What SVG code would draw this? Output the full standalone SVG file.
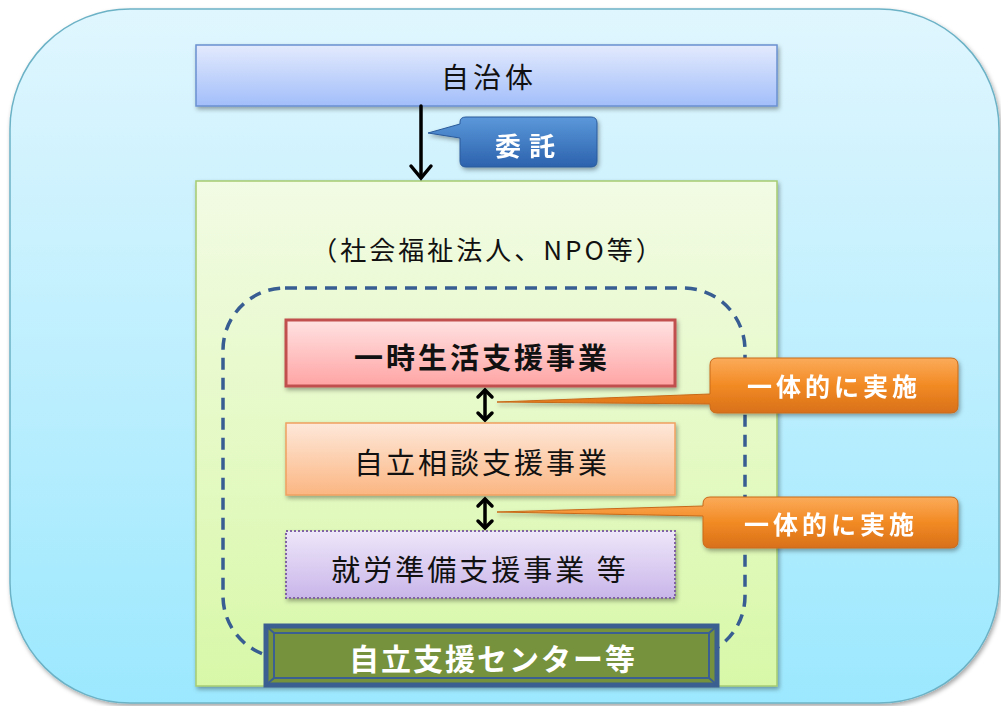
<svg xmlns="http://www.w3.org/2000/svg" width="1001" height="706" viewBox="0 0 1001 706">
<style>
.jp{font-family:"Noto Sans CJK JP","Noto Sans CJK SC",sans-serif;}
.dark{fill:#111;}
.wt{fill:#fff;font-weight:bold;}
.arr{stroke:#000;stroke-width:3.5;fill:none;stroke-linecap:round;stroke-linejoin:miter;}
.box{font-size:29px;letter-spacing:3px;}
</style>
<defs>
<linearGradient id="gOuter" x1="0" y1="0" x2="0" y2="1"><stop offset="0" stop-color="#e0f6fe"/><stop offset="1" stop-color="#9ce8fe"/></linearGradient>
<linearGradient id="gBlue" x1="0" y1="0" x2="0" y2="1"><stop offset="0" stop-color="#e3eafd"/><stop offset="1" stop-color="#a2befa"/></linearGradient>
<linearGradient id="gGreen" x1="0" y1="0" x2="0" y2="1"><stop offset="0" stop-color="#f2fbe4"/><stop offset="1" stop-color="#d8f8a8"/></linearGradient>
<linearGradient id="gRed" x1="0" y1="0" x2="0" y2="1"><stop offset="0" stop-color="#ffe2e2"/><stop offset="1" stop-color="#ffa4a4"/></linearGradient>
<linearGradient id="gOrange" x1="0" y1="0" x2="0" y2="1"><stop offset="0" stop-color="#fee8da"/><stop offset="1" stop-color="#fbb682"/></linearGradient>
<linearGradient id="gPurple" x1="0" y1="0" x2="0" y2="1"><stop offset="0" stop-color="#eee6f9"/><stop offset="1" stop-color="#c9b6ea"/></linearGradient>
<linearGradient id="gCallB" x1="0" y1="0" x2="0" y2="1"><stop offset="0" stop-color="#5b98da"/><stop offset="1" stop-color="#2c62ad"/></linearGradient>
<linearGradient id="gCallO" x1="0" y1="0" x2="0" y2="1"><stop offset="0" stop-color="#fbab5a"/><stop offset="0.5" stop-color="#f28a24"/><stop offset="1" stop-color="#d8701a"/></linearGradient>
<filter id="sh" x="-10%" y="-10%" width="120%" height="130%"><feDropShadow dx="1.5" dy="2.5" stdDeviation="2" flood-color="#000" flood-opacity="0.35"/></filter>
</defs>

<g id="outer">
<rect x="10" y="9" width="989" height="694" rx="120" fill="url(#gOuter)" stroke="#6cb2c6" stroke-width="1.5" filter="url(#sh)"/>
</g>

<g id="jichitai">
<rect x="196" y="45" width="581" height="61" fill="url(#gBlue)" stroke="#6a90d0" stroke-width="1.5" filter="url(#sh)"/>
<text x="489" y="88" text-anchor="middle" font-size="28" letter-spacing="4" class="jp dark">自治体</text>
</g>

<g id="hojin">
<rect x="196" y="181" width="581" height="505" fill="url(#gGreen)" stroke="#a6cc70" stroke-width="1.5" filter="url(#sh)"/>
<text x="488" y="260" text-anchor="middle" font-size="26" letter-spacing="3" class="jp dark">（社会福祉法人、NPO等）</text>
</g>

<g id="dashed-group">
<rect x="223" y="288" width="522" height="370" rx="62" fill="none" stroke="#375d92" stroke-width="3.5" stroke-dasharray="12 8"/>
</g>

<g id="connectors">
<line x1="421" y1="106" x2="421" y2="177" class="arr"/>
<polyline points="411,166 421,178 431,166" class="arr"/>
<line x1="485" y1="391" x2="485" y2="419" class="arr"/>
<polyline points="478,397 485,390 492,397" class="arr"/>
<polyline points="478,413 485,420 492,413" class="arr"/>
<line x1="485" y1="500" x2="485" y2="527" class="arr"/>
<polyline points="478,506 485,499 492,506" class="arr"/>
<polyline points="478,521 485,528 492,521" class="arr"/>
</g>

<g id="ichiji">
<rect x="286" y="320" width="389" height="66" fill="url(#gRed)" stroke="#c0504d" stroke-width="3" filter="url(#sh)"/>
<text x="482" y="369" text-anchor="middle" font-weight="bold" class="jp dark box">一時生活支援事業</text>
</g>

<g id="soudan">
<rect x="286" y="423" width="389" height="72" fill="url(#gOrange)" stroke="#f0a060" stroke-width="1.5" filter="url(#sh)"/>
<text x="482" y="474" text-anchor="middle" class="jp dark box">自立相談支援事業</text>
</g>

<g id="shuro">
<rect x="286" y="531" width="389" height="67" fill="url(#gPurple)" stroke="#8064a2" stroke-width="2" stroke-dasharray="2 2" filter="url(#sh)"/>
<text x="480" y="581" text-anchor="middle" class="jp dark box">就労準備支援事業 等</text>
</g>

<g id="center">
<rect x="266" y="626" width="451" height="59" fill="#76923c" stroke="#3a5f90" stroke-width="5"/>
<rect x="274" y="633" width="435" height="45" fill="none" stroke="#3a5f90" stroke-width="2"/>
<line x1="266" y1="626" x2="274" y2="633" stroke="#3a5f90" stroke-width="2"/>
<line x1="717" y1="626" x2="709" y2="633" stroke="#3a5f90" stroke-width="2"/>
<line x1="266" y1="685" x2="274" y2="678" stroke="#3a5f90" stroke-width="2"/>
<line x1="717" y1="685" x2="709" y2="678" stroke="#3a5f90" stroke-width="2"/>
<text x="493" y="670" text-anchor="middle" font-size="30" letter-spacing="2" class="jp wt">自立支援センター等</text>
</g>

<g id="itaku" filter="url(#sh)">
<path d="M428,133 L460,124 L460,122 Q460,117 466,117 L591,117 Q597,117 597,123 L597,161 Q597,167 591,167 L466,167 Q460,167 460,161 L460,138 Z" fill="url(#gCallB)" stroke="#2a5a9a" stroke-width="1"/>
<text x="529" y="156" text-anchor="middle" font-size="26" letter-spacing="8" class="jp wt">委託</text>
</g>

<g id="callout1" filter="url(#sh)">
<path d="M497,402 L710,394 L710,365 Q710,358 717,358 L951,358 Q958,358 958,365 L958,406 Q958,413 951,413 L717,413 Q710,413 710,406 L710,404 Z" fill="url(#gCallO)" stroke="#c86a1a" stroke-width="1"/>
<text x="834" y="396" text-anchor="middle" font-size="25" letter-spacing="4" class="jp wt">一体的に実施</text>
</g>

<g id="callout2" filter="url(#sh)">
<path d="M497,512 L703,506 L703,504 Q703,497 710,497 L951,497 Q958,497 958,504 L958,541 Q958,548 951,548 L710,548 Q703,548 703,541 L703,516 Z" fill="url(#gCallO)" stroke="#c86a1a" stroke-width="1"/>
<text x="831" y="534" text-anchor="middle" font-size="25" letter-spacing="4" class="jp wt">一体的に実施</text>
</g>
</svg>
